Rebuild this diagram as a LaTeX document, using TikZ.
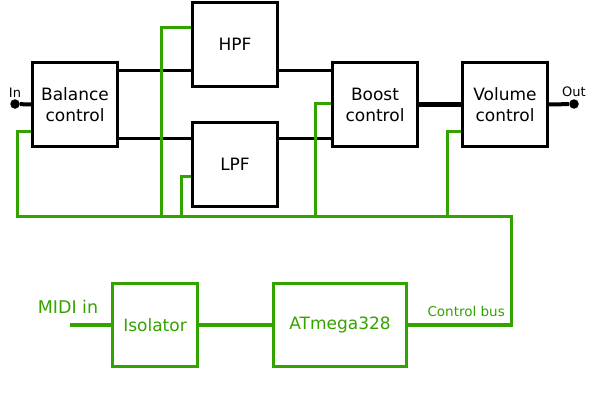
\documentclass[tikz,border=0pt]{standalone}
\usepackage{fontspec}
\setmainfont{DejaVu Sans}
\usetikzlibrary{positioning,calc}
\definecolor{ctrlgreen}{RGB}{51,163,0}
\tikzset{
    block/.style = {
        draw,
        line width=3pt,
        minimum width=85pt,
        minimum height=84pt,
        align=center,
        font=\fontsize{17}{21}\selectfont,
        },
    ctrl block/.style = {
        block,
        draw=ctrlgreen,
        text=ctrlgreen,
        minimum height=83pt,
        },
    audio wire/.style = {
        line width=3pt,
        },
    audio thick/.style = {
        line width=4pt,
        },
    ctrl wire/.style = {
        draw=ctrlgreen,
        line width=3pt,
        },
    ctrl thick/.style = {
        draw=ctrlgreen,
        line width=4pt,
        },
    jack/.style = {
        circle,
        fill,
        inner sep=0pt,
        minimum size=9.5pt,
        },
    pin label/.style = {
        inner sep=0pt,
        font=\fontsize{13}{15}\selectfont,
        },
    bus label/.style = {
        inner sep=0pt,
        text=ctrlgreen,
        font=\fontsize{13.5}{15}\selectfont,
        },
    midi label/.style = {
        inner sep=0pt,
        text=ctrlgreen,
        font=\fontsize{17.5}{20}\selectfont,
        },
}
\begin{document}
\begin{tikzpicture}[x=1pt,y=1pt]
            \useasboundingbox (0,0) rectangle (600,400);

            % audio path
            \node[block] (bal) at (75,295.5) {Balance\\control};
            \node[block, right=72pt of bal, yshift=60pt] (hpf) {HPF};
            \node[block, right=72pt of bal, yshift=-60pt] (lpf) {LPF};
            \node[block, right=212pt of bal] (boost) {Boost\\control};
            \node[block, right=42pt of boost] (vol) {Volume\\control};
            \node[jack] (in) at (15,296) {};
            \node[jack] (out) at (574,296) {};
            \node[pin label, anchor=base] (inlbl) at ([yshift=7pt]in.center) {In};
            \node[pin label, anchor=base] (outlbl) at ([yshift=8pt]out.center) {Out};

            % control side
            \node[ctrl block] (iso) at (155,75) {Isolator};
            \node[ctrl block, minimum width=133pt, right=73pt of iso] (mcu) {ATmega328};
            \coordinate (midi) at (70,75);
            \node[midi label, anchor=base] (midilbl) at (68,87) {MIDI in};
            \node[bus label, anchor=base east] (buslbl) at (505,84) {Control bus};

            % bus points
            \coordinate (busL) at (17,184);
            \coordinate (busR) at (511,184);
            \coordinate (busC) at (busR |- mcu.east);
            \coordinate (tapH) at (161,184);
            \coordinate (tapL) at (181,184);
            \coordinate (tapB) at (315,184);
            \coordinate (tapV) at (447,184);

            \draw[audio thick] (in) -- (bal.west);
            \draw[audio wire] ([yshift=33.5pt]bal.east) -- ([yshift=-26.5pt]hpf.west);
            \draw[audio wire] ([yshift=-33.5pt]bal.east) -- ([yshift=26.5pt]lpf.west);
            \draw[audio wire] ([yshift=-26.5pt]hpf.east) -- ([yshift=33.5pt]boost.west);
            \draw[audio wire] ([yshift=26.5pt]lpf.east) -- ([yshift=-33.5pt]boost.west);
            \draw[audio thick, line width=5pt] (boost.east) -- (vol.west);
            \draw[audio thick] (vol.east) -- (out);

            \draw[ctrl wire] ([yshift=-26.5pt]bal.west) -| (busL) -- (busR) -- (busC);
            \draw[ctrl wire] ([yshift=16.5pt]hpf.west) -| (tapH);
            \draw[ctrl wire] ([yshift=-11.5pt]lpf.west) -| (tapL);
            \draw[ctrl wire] ([yshift=1pt]boost.west) -| (tapB);
            \draw[ctrl wire] ([yshift=-26.5pt]vol.west) -| (tapV);
            \draw[ctrl thick] (midi) -- (iso.west);
            \draw[ctrl thick] (iso.east) -- (mcu.west);
            \draw[ctrl thick] (mcu.east) -- ([xshift=1.5pt]busC);
        \end{tikzpicture}
\end{document}
